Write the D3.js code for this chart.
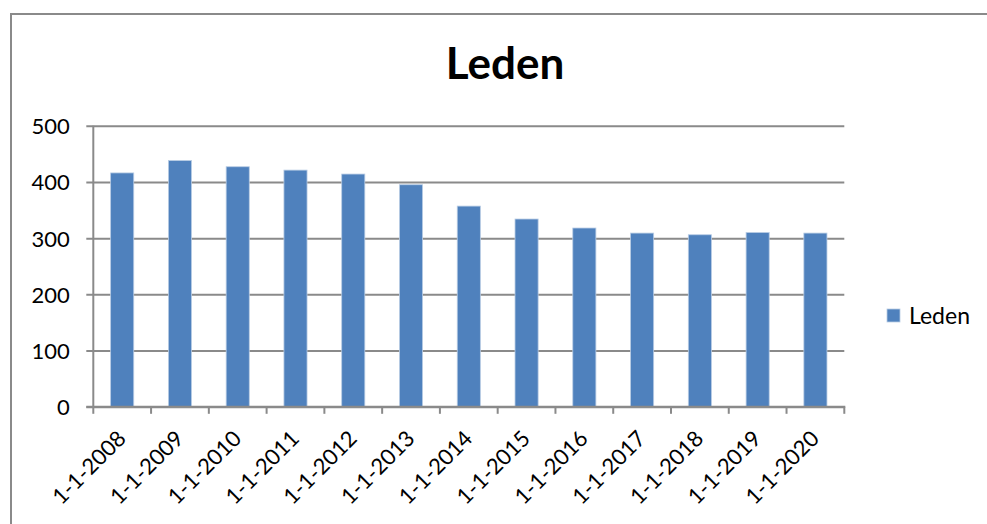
<!DOCTYPE html>
<html>
<head>
<meta charset="utf-8">
<script src="https://cdn.jsdelivr.net/npm/d3@7"></script>
<style>
  html, body { margin: 0; padding: 0; background: #fff; }
  svg { display: block; }
  text { font-family: Lato, "Open Sans", sans-serif; fill: #000; }
</style>
</head>
<body>
<svg id="chart" width="987" height="524"></svg>
<script>
const categories = ["1-1-2008","1-1-2009","1-1-2010","1-1-2011","1-1-2012","1-1-2013","1-1-2014","1-1-2015","1-1-2016","1-1-2017","1-1-2018","1-1-2019","1-1-2020"];
const leden = [416, 438, 427, 421, 414, 395, 357, 334, 318, 309, 306, 310, 309];
const yTicks = [0, 100, 200, 300, 400, 500];
const seriesName = "Leden";
const titleText = "Leden";

const svg = d3.select("#chart");
const W = 987, H = 524;
const plotLeft = 93.3, plotRight = 844.3, plotTop = 125.7, plotBottom = 406.8;
const gridColor = "#8a8a8a";
const barColor = "#4F81BD";

// outer chart border
svg.append("rect")
  .attr("x", 11).attr("y", 14)
  .attr("width", W + 20).attr("height", H + 20)
  .attr("fill", "none").attr("stroke", gridColor).attr("stroke-width", 2);

const x = d3.scaleBand().domain(categories).range([plotLeft, plotRight])
  .paddingInner(0.6).paddingOuter(0.3);
const y = d3.scaleLinear().domain([0, 500]).range([plotBottom, plotTop]);

// gridlines + y axis
const yAxis = d3.axisLeft(y).tickValues(yTicks).tickSize(-(plotRight - plotLeft)).tickPadding(0).tickFormat(d3.format("d"));
const gy = svg.append("g").attr("transform", `translate(${plotLeft},0)`).call(yAxis);
gy.select(".domain").remove();
gy.selectAll(".tick line").attr("stroke", gridColor).attr("stroke-width", 2).attr("x1", -7);
gy.selectAll(".tick text").attr("x", -23.5).attr("dy", "0.36em")
  .style("font-size", "22px").style("font-family", "Lato, sans-serif").attr("fill", "#000");

// bars
svg.append("g").selectAll("rect").data(leden).join("rect")
  .attr("x", (d, i) => x(categories[i]))
  .attr("y", d => y(d))
  .attr("width", x.bandwidth())
  .attr("height", d => y(0) - y(d))
  .attr("fill", barColor)
  .attr("stroke", "#b8cce4").attr("stroke-width", 0.8);

// axis lines
svg.append("line").attr("x1", plotLeft).attr("x2", plotLeft).attr("y1", plotTop).attr("y2", plotBottom)
  .attr("stroke", gridColor).attr("stroke-width", 2);
svg.append("line").attr("x1", plotLeft - 7).attr("x2", plotRight + 1).attr("y1", plotBottom).attr("y2", plotBottom)
  .attr("stroke", gridColor).attr("stroke-width", 2);

// x ticks at category boundaries
const step = x.step();
const boundaries = d3.range(categories.length + 1).map(i => plotLeft + i * step);
svg.append("g").selectAll("line").data(boundaries).join("line")
  .attr("x1", d => d).attr("x2", d => d).attr("y1", plotBottom).attr("y2", plotBottom + 7)
  .attr("stroke", gridColor).attr("stroke-width", 2);

// x labels rotated
svg.append("g").selectAll("text").data(categories).join("text")
  .attr("transform", d => `translate(${x(d) + x.bandwidth() / 2 + 5},${440}) rotate(-45)`)
  .attr("text-anchor", "end")
  .style("font-size", "22px")
  .text(d => d);

// title
svg.append("text").attr("x", 505).attr("y", 79).attr("text-anchor", "middle")
  .style("font-size", "44px").style("font-weight", "bold").text(titleText);

// legend
svg.append("rect").attr("x", 887).attr("y", 309).attr("width", 13).attr("height", 13)
  .attr("fill", barColor).attr("stroke", "#b8cce4").attr("stroke-width", 0.8);
svg.append("text").attr("x", 909).attr("y", 324).style("font-size", "23px").text(seriesName);
</script>
</body>
</html>
